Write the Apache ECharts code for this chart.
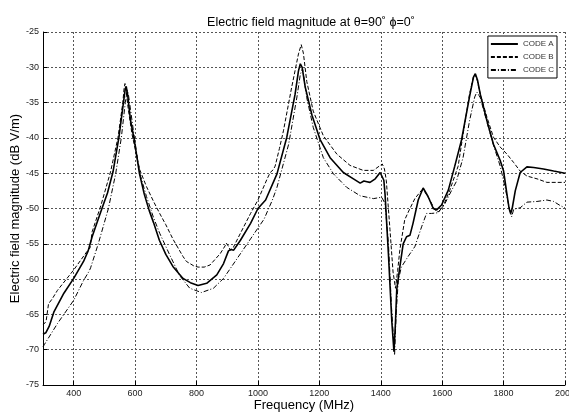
<!DOCTYPE html>
<html>
<head>
<meta charset="utf-8">
<script src="https://cdn.jsdelivr.net/npm/echarts@6/dist/echarts.min.js"></script>
<style>html,body{margin:0;padding:0;background:#fff;}#c{width:569px;height:412px;}</style>
</head>
<body>
<div id="c"></div>
<script>
// Frequency (MHz) / magnitude (dB V/m) samples
const freqA = [300,309,320,336,368,400,432,447,460,480,496,510,528,547,562,568,571,576,585,596,614,630,646,660,679,700,723,756,780,805,833,866,888,904,912,921,943,976,1000,1025,1062,1094,1121,1132,1138,1144,1154,1176,1202,1235,1278,1311,1333,1345,1355,1365,1382,1398,1404,1410,1414,1425,1436,1443,1448,1452,1462,1473,1484,1495,1505,1522,1538,1554,1571,1582,1598,1620,1641,1663,1689,1702,1708,1715,1724,1746,1767,1789,1800,1811,1818,1823,1828,1838,1854,1876,1898,1930,1963,2000];
const valA  = [-67.8,-67.6,-66.7,-64.6,-62.0,-59.9,-57.5,-56.0,-54.0,-51.5,-49.5,-47.8,-44.8,-40.0,-35.0,-33.0,-32.7,-34.0,-37.5,-40.0,-45.0,-48.0,-50.3,-52.0,-54.5,-56.5,-58.2,-59.9,-60.5,-60.9,-60.6,-59.4,-57.8,-56.0,-55.8,-55.9,-54.5,-52.1,-50.0,-48.8,-45.1,-39.9,-33.8,-30.5,-29.5,-30.0,-32.8,-36.8,-40.2,-42.8,-44.9,-45.8,-46.4,-46.1,-46.2,-46.3,-45.8,-44.9,-44.8,-46.0,-48.0,-56.5,-66.0,-70.3,-66.0,-61.5,-58.3,-55.0,-54.0,-53.8,-52.1,-48.8,-47.1,-48.3,-50.0,-50.2,-49.5,-47.4,-44.0,-40.3,-34.2,-31.4,-30.9,-31.8,-33.8,-37.6,-40.9,-43.2,-44.7,-48.0,-50.0,-50.7,-50.0,-47.5,-44.9,-44.1,-44.2,-44.4,-44.7,-45.0];

const freqB = [300,310,318,330,347,400,443,453,460,489,520,544,560,564,567,571,578,590,615,637,660,680,700,724,756,767,790,805,825,844,877,893,897,903,910,920,943,976,1000,1030,1040,1050,1056,1070,1083,1110,1132,1141,1148,1159,1180,1213,1257,1300,1343,1376,1398,1405,1412,1418,1430,1440,1448,1455,1462,1478,1495,1511,1533,1543,1560,1576,1587,1603,1625,1652,1668,1689,1702,1707,1714,1724,1746,1767,1789,1811,1833,1854,1876,1909,1941,1974,2000];
const valB  = [-66.5,-66.0,-63.5,-62.8,-61.6,-58.7,-56.1,-55.6,-53.3,-49.5,-44.8,-40.0,-35.0,-33.0,-32.3,-33.5,-36.0,-39.5,-44.5,-46.9,-49.0,-50.7,-52.3,-54.4,-56.8,-57.5,-58.1,-58.3,-58.3,-58.0,-56.4,-55.3,-54.9,-55.3,-55.9,-55.5,-53.5,-50.7,-48.8,-45.8,-44.9,-44.5,-44.0,-41.5,-39.0,-32.8,-28.1,-26.8,-28.0,-32.0,-36.2,-39.7,-42.3,-43.9,-44.6,-44.6,-43.9,-43.7,-44.4,-46.0,-53.0,-59.0,-61.3,-58.8,-55.9,-51.6,-50.0,-48.6,-47.4,-47.6,-48.8,-50.2,-50.5,-49.7,-47.4,-44.0,-39.5,-33.8,-31.3,-31.0,-31.8,-33.8,-37.1,-39.9,-41.3,-42.3,-43.5,-44.7,-45.4,-45.8,-46.3,-46.3,-46.3];

const freqC = [300,304,347,400,432,450,455,480,513,537,555,568,574,578,585,597,615,637,660,680,713,745,778,816,855,888,910,932,976,1020,1047,1062,1100,1127,1138,1145,1150,1159,1180,1213,1246,1289,1333,1376,1403,1414,1425,1435,1445,1450,1457,1467,1489,1511,1533,1549,1565,1587,1609,1630,1646,1668,1689,1706,1713,1720,1724,1746,1767,1789,1805,1816,1826,1833,1854,1876,1909,1941,1963,1985,2000];
const valC  = [-69.6,-69.3,-66.3,-63.0,-60.2,-58.9,-58.4,-55.0,-50.0,-45.0,-40.0,-35.0,-33.2,-33.8,-36.0,-39.8,-45.0,-48.3,-51.3,-53.5,-56.6,-59.5,-61.3,-61.9,-61.3,-59.9,-58.5,-57.1,-54.3,-51.5,-48.8,-47.0,-40.9,-34.2,-31.0,-30.2,-31.5,-34.3,-38.5,-42.8,-45.1,-47.0,-48.2,-48.6,-48.4,-49.3,-55.0,-64.0,-70.8,-65.0,-60.2,-58.3,-56.8,-55.4,-52.6,-50.7,-50.7,-50.6,-49.3,-47.5,-46.2,-42.8,-37.6,-34.2,-33.5,-34.0,-34.3,-37.8,-41.0,-44.0,-47.0,-49.4,-51.2,-50.1,-49.9,-49.1,-49.0,-48.8,-49.0,-49.6,-49.9];

const seriesNames = ['CODE A','CODE B','CODE C'];
const titleText = 'Electric field magnitude at \u03B8=90\u02DA \u03D5=0\u02DA';
const xName = 'Frequency (MHz)';
const yName = 'Electric field magnitude (dB V/m)';

const pairs = (f, v) => f.map((x, i) => [x, v[i]]);
const FONT = 'Liberation Sans, Arial, sans-serif';

const chart = echarts.init(document.getElementById('c'), null, {renderer: 'canvas'});
chart.setOption({
  animation: false,
  backgroundColor: '#fff',
  title: {
    text: titleText,
    left: 306, top: 11, textAlign: 'center',
    textStyle: {fontFamily: FONT, fontSize: 12.5, fontWeight: 'normal', color: '#000'}
  },
  legend: {
    data: seriesNames,
    orient: 'vertical',
    right: 12, top: 36,
    backgroundColor: '#fff',
    borderColor: '#000', borderWidth: 1,
    padding: [4, 3, 4, 2],
    itemGap: 5, itemWidth: 27, itemHeight: 10,
    selectedMode: false,
    itemStyle: {opacity: 0},
    textStyle: {fontFamily: FONT, fontSize: 8, color: '#333'}
  },
  grid: {left: 43, right: 4, top: 32, bottom: 27, containLabel: false, outerBoundsMode: 'none'},
  xAxis: {
    type: 'value', min: 300, max: 2000, splitNumber: 8,
    name: xName, nameLocation: 'middle', nameGap: 14, nameMoveOverlap: false,
    nameTextStyle: {fontFamily: FONT, fontSize: 13, color: '#000'},
    axisLine: {show: true, lineStyle: {color: '#000', width: 1}},
    axisTick: {show: true, inside: true, length: 4, lineStyle: {color: '#000'}},
    axisLabel: {fontFamily: FONT, fontSize: 9, color: '#222', margin: 4, showMinLabel: false,
                formatter: (v) => String(v), hideOverlap: false},
    splitLine: {show: true, lineStyle: {color: '#555', width: 1, type: [2, 2]}}
  },
  yAxis: {
    type: 'value', min: -75, max: -25, interval: 5,
    name: yName, nameLocation: 'middle', nameGap: 21, nameMoveOverlap: false,
    nameTextStyle: {fontFamily: FONT, fontSize: 13, color: '#000'},
    axisLine: {show: true, lineStyle: {color: '#000', width: 1}},
    axisTick: {show: true, inside: true, length: 4, lineStyle: {color: '#000'}},
    axisLabel: {fontFamily: FONT, fontSize: 9, color: '#222', margin: 4, formatter: (v) => String(v)},
    splitLine: {show: true, lineStyle: {color: '#555', width: 1, type: [2, 2]}}
  },
  series: [
    {name: seriesNames[0], type: 'line', symbol: 'none', data: pairs(freqA, valA),
     lineStyle: {color: '#000', width: 1.6, type: 'solid'}, itemStyle: {color: '#000'}},
    {name: seriesNames[1], type: 'line', symbol: 'none', data: pairs(freqB, valB),
     lineStyle: {color: '#000', width: 1, type: [4, 2]}, itemStyle: {color: '#000'}},
    {name: seriesNames[2], type: 'line', symbol: 'none', data: pairs(freqC, valC),
     lineStyle: {color: '#000', width: 1, type: [5, 2, 1, 2]}, itemStyle: {color: '#000'}}
  ]
});
</script>
</body>
</html>
